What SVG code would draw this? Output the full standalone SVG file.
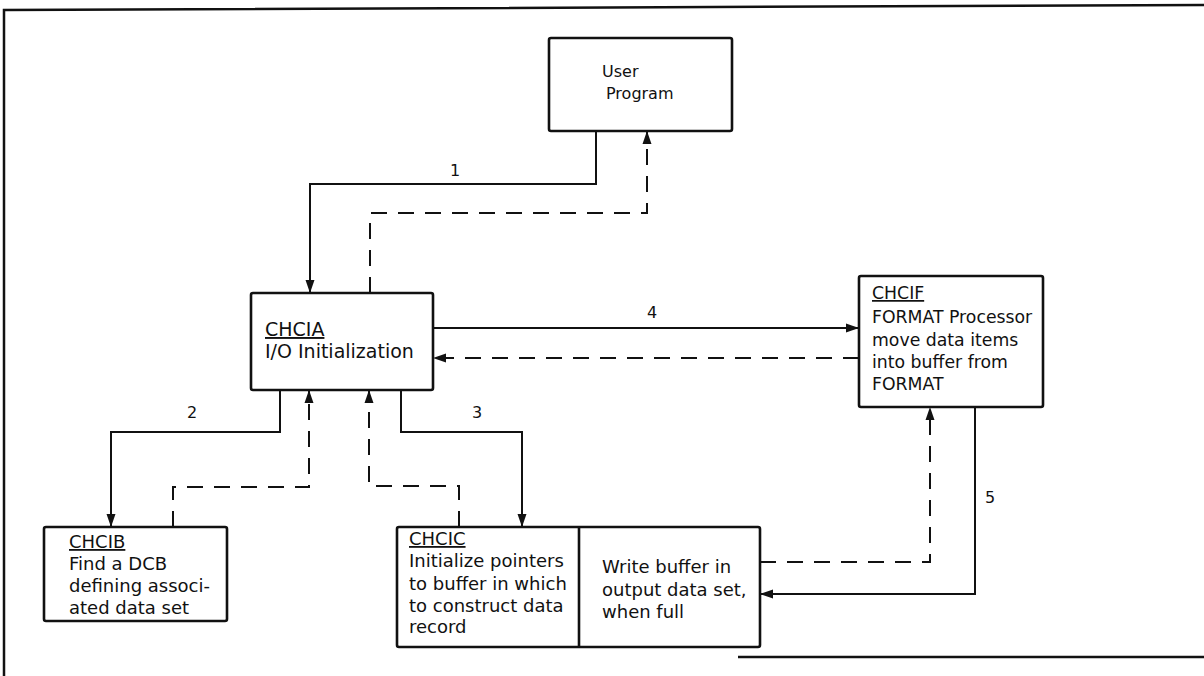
<svg xmlns="http://www.w3.org/2000/svg" width="1204" height="676" viewBox="0 0 1204 676">
  <style>
    .frame { fill: none; stroke: #111; stroke-width: 2.5; }
    .box { fill: #fff; stroke: #111; stroke-width: 2.6; }
    .solid { fill: none; stroke: #111; stroke-width: 2; }
    .dash { fill: none; stroke: #111; stroke-width: 2; stroke-dasharray: 16 11; }
    text { font-family: "DejaVu Sans", "Liberation Sans", sans-serif; fill: #111; }
    .t { font-size: 18px; }
    .tf { font-size: 17.3px; }
    .big { font-size: 19px; }
    .small { font-size: 16px; }
    .num { font-size: 16px; }
    .ul { text-decoration: underline; }
  </style>
  <defs>
    <marker id="arrow" markerUnits="userSpaceOnUse" markerWidth="14" markerHeight="10" refX="13" refY="5" orient="auto">
      <path d="M0,0.5 L13,5 L0,9.5 z" fill="#111"/>
    </marker>
  </defs>

  <rect width="1204" height="676" fill="#fff"/>

  <!-- page frame -->
  <g id="frame">
    <path class="frame" d="M4,676 V10 L1204,5"/>
    <path class="frame" d="M738,657 H1204"/>
  </g>

  <!-- connectors -->
  <g id="connectors">
    <path class="solid" d="M596,131 V184 H310 V293" marker-end="url(#arrow)"/>
    <path class="dash" d="M370,293 V213 H647 V131" marker-end="url(#arrow)"/>
    <path class="solid" d="M433,328 H859" marker-end="url(#arrow)"/>
    <path class="dash" d="M859,358 H433" marker-end="url(#arrow)"/>
    <path class="solid" d="M280,390 V432 H111 V527" marker-end="url(#arrow)"/>
    <path class="dash" d="M173,527 V487 H309 V390" marker-end="url(#arrow)"/>
    <path class="solid" d="M401,390 V432 H522 V527" marker-end="url(#arrow)"/>
    <path class="dash" d="M459,527 V486 H369 V390" marker-end="url(#arrow)"/>
    <path class="solid" d="M975,407 V594 H760" marker-end="url(#arrow)"/>
    <path class="dash" d="M760,562 H930 V407" marker-end="url(#arrow)"/>
    <text class="num" x="455" y="176" text-anchor="middle">1</text>
    <text class="num" x="192" y="418" text-anchor="middle">2</text>
    <text class="num" x="477" y="418" text-anchor="middle">3</text>
    <text class="num" x="652" y="318" text-anchor="middle">4</text>
    <text class="num" x="990" y="503" text-anchor="middle">5</text>
  </g>

  <g id="user-program">
    <rect class="box" x="549" y="38" width="183" height="93" rx="2"/>
    <text class="small" x="602" y="77">User</text>
    <text class="small" x="606" y="99">Program</text>
  </g>

  <g id="chcia">
    <rect class="box" x="251" y="293" width="182" height="97" rx="2"/>
    <text class="big ul" x="265" y="336">CHCIA</text>
    <text class="big" x="265" y="358">I/O Initialization</text>
  </g>

  <g id="chcif">
    <rect class="box" x="859" y="276" width="184" height="131" rx="2"/>
    <text class="tf ul" x="872" y="299">CHCIF</text>
    <text class="tf" x="872" y="323">FORMAT Processor</text>
    <text class="tf" x="872" y="346">move data items</text>
    <text class="tf" x="872" y="368">into buffer from</text>
    <text class="tf" x="872" y="390">FORMAT</text>
  </g>

  <g id="chcib">
    <rect class="box" x="44" y="527" width="183" height="94" rx="2"/>
    <text class="t ul" x="69" y="548">CHCIB</text>
    <text class="t" x="69" y="570">Find a DCB</text>
    <text class="t" x="69" y="592">defining associ-</text>
    <text class="t" x="69" y="614">ated data set</text>
  </g>

  <g id="chcic">
    <rect class="box" x="397" y="527" width="363" height="120" rx="2"/>
    <line class="box" x1="579" y1="527" x2="579" y2="647"/>
    <text class="t ul" x="409" y="545">CHCIC</text>
    <text class="t" x="409" y="567">Initialize pointers</text>
    <text class="t" x="409" y="590">to buffer in which</text>
    <text class="t" x="409" y="612">to construct data</text>
    <text class="t" x="409" y="633">record</text>
    <text class="t" x="602" y="573">Write buffer in</text>
    <text class="t" x="602" y="596">output data set,</text>
    <text class="t" x="602" y="618">when full</text>
  </g>
</svg>
